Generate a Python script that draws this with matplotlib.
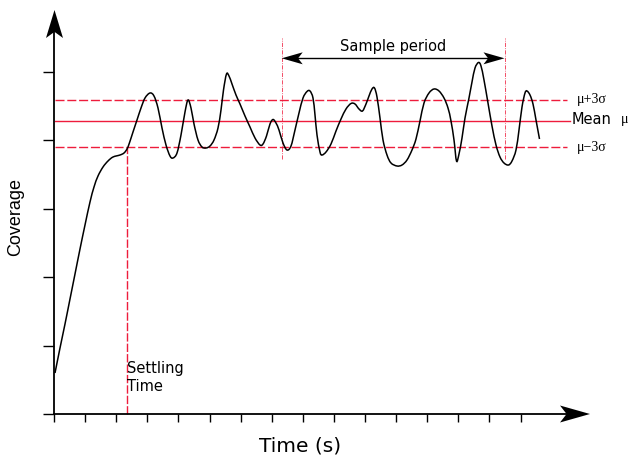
import matplotlib
matplotlib.use("Agg")
import matplotlib.pyplot as plt
from matplotlib.path import Path
from matplotlib.patches import PathPatch
import numpy as np

# time / coverage (arbitrary units, origin at the axes corner)
time = [1, 6, 11, 16, 21, 26, 31, 36, 40, 44, 49, 54, 59, 66, 70, 73, 75.3,
        79, 83, 87, 91, 96, 100, 104, 108, 112, 116, 119, 123, 127, 131, 134, 137,
        140, 144, 148, 152, 156, 160, 164, 167, 169.5, 172.5, 175, 178, 182, 186,
        191, 196, 201, 206, 209, 212.5, 216, 219, 222, 225, 229, 233, 237, 241,
        245, 249, 253, 256, 259, 261, 263, 266, 268, 272, 277, 282, 287, 292, 297,
        301, 305, 308.5, 312, 315, 318, 320.5, 323, 326, 329, 333, 337, 343, 348,
        353, 358, 362, 366, 370, 375, 380, 385, 390, 394, 397, 400, 402.5, 405,
        408, 411, 415, 418, 421, 424.5, 427, 430, 434, 438, 442, 446, 450, 454.5,
        458, 462, 465, 468, 471, 473, 476, 479, 482, 485.5]
coverage = [41, 66, 90, 115, 140, 165, 189, 212, 227, 238, 247, 253, 257, 259, 261, 265, 270.7,
            282, 294, 306, 316, 321, 318, 306, 286, 269, 258, 256, 261, 279, 302, 314, 306,
            290, 274, 267, 266, 268, 274, 286, 304, 324, 340, 338, 330, 319, 310,
            298, 287, 276, 269, 270, 278, 290, 294.5, 291, 284, 271, 264, 268, 284,
            301, 316, 322.5, 323, 316, 299, 279, 262, 259, 262, 270, 283, 295, 305, 310.5,
            310, 305, 303, 310, 318, 325, 326, 317, 296, 274, 259, 251, 248, 249,
            254, 264, 275, 293, 311, 321, 325, 323, 316, 306, 293, 274, 253, 260,
            276, 296, 316, 332, 346, 351.5, 348, 334, 311, 288, 269, 257, 251, 249,
            253, 264, 284, 307, 321, 323, 319, 310, 294, 275]

mean = 293
upper = 314
lower = 267.5
settling_time = 72.5
sample_start = 227.7
sample_end = 450.5

red = '#ee1c3c'


def stealth(ax, tip, direction, length, half_w, color='black'):
    d = np.array(direction, dtype=float)
    d = d / np.linalg.norm(d)
    n = np.array([-d[1], d[0]])
    tip = np.array(tip, dtype=float)
    back = tip - d * length
    notch = tip - d * length * 0.78
    pts = np.array([tip, back + n * half_w, notch, back - n * half_w])
    ax.fill(pts[:, 0], pts[:, 1], color=color, lw=0, zorder=5)


def smooth_path(xs, ys):
    # catmull-rom through the traced points, drawn as cubic bezier segments
    p = np.column_stack([xs, ys]).astype(float)
    p = np.vstack([p[0], p, p[-1]])
    verts = [p[1]]
    codes = [Path.MOVETO]
    for i in range(1, len(p) - 2):
        c1 = p[i] + (p[i + 1] - p[i - 1]) / 6
        c2 = p[i + 1] - (p[i + 2] - p[i]) / 6
        verts += [c1, c2, p[i + 1]]
        codes += [Path.CURVE4] * 3
    return Path(verts, codes)


fig = plt.figure(figsize=(6.3, 4.59), dpi=100)
ax = fig.add_axes([0, 0, 1, 1])
ax.set_xlim(-54, 576)
ax.set_ylim(-45, 414)

for s in ['top', 'right']:
    ax.spines[s].set_visible(False)
ax.spines['left'].set_position(('data', 0))
ax.spines['bottom'].set_position(('data', 0))
ax.spines['left'].set_bounds(0, 390)
ax.spines['bottom'].set_bounds(0, 525)
ax.spines['left'].set_linewidth(1.3)
ax.spines['bottom'].set_linewidth(1.3)
ax.set_xticks(np.arange(16) * 31.1)
ax.set_yticks(np.arange(6) * 68.5)
ax.tick_params(axis='x', direction='out', length=6, width=1.0, labelbottom=False)
ax.tick_params(axis='y', direction='out', length=8, width=1.0, labelleft=False)

stealth(ax, (0.5, 404), (0, 1), 28, 8.5)
stealth(ax, (536, 0), (1, 0), 30, 8.5)

# control limits
ax.plot([1, 513], [upper, upper], color=red, lw=1.0, dashes=(6.5, 2))
ax.plot([1, 516], [mean, mean], color=red, lw=1.0)
ax.plot([1, 513], [lower, lower], color=red, lw=1.0, dashes=(6.5, 2))

# settling time marker
ax.plot([settling_time, settling_time], [0, lower], color=red, lw=1.0, dashes=(6, 1.5))
ax.text(settling_time + 0.5, 53, 'Settling\nTime', fontsize=10.5, va='top', ha='left',
        linespacing=1.25)

# sample period
for xs in (sample_start, sample_end):
    ax.plot([xs, xs], [255, 376], color=red, lw=0.6, dashes=(5, 1.5, 1, 1.5), alpha=0.9)
ax.plot([sample_start + 10, sample_end - 10], [355.7, 355.7], color='black', lw=1.0)
stealth(ax, (sample_start, 355.7), (-1, 0), 21, 6)
stealth(ax, (sample_end, 355.7), (1, 0), 21, 6)
ax.text((sample_start + sample_end) / 2, 368, 'Sample period', fontsize=10.5,
        ha='center', va='center')

# coverage trace
ax.add_patch(PathPatch(smooth_path(time, coverage), facecolor='none', edgecolor='black',
                       lw=1.1, zorder=4))

serif = ['Liberation Serif', 'DejaVu Serif']
ax.text(523, upper, 'μ+3σ', fontsize=10, family=serif, va='center', ha='left')
ax.text(523, lower - 1, 'μ−3σ', fontsize=10, family=serif, va='center', ha='left')
ax.text(518, mean + 2, 'Mean', fontsize=10.5, va='center', ha='left')
ax.text(567, mean + 2, 'μ', fontsize=10, family=serif, va='center', ha='left')

ax.text(-38, 197, 'Coverage', fontsize=13, family=['Liberation Sans', 'DejaVu Sans'],
        rotation=90, ha='center', va='center')
ax.text(246, -32, 'Time (s)', fontsize=14.5, ha='center', va='center')

fig.savefig('out.png', dpi=100)
